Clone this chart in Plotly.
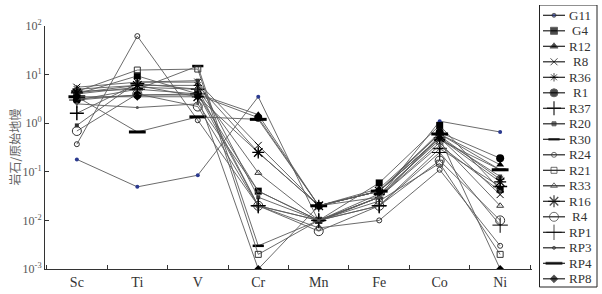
import plotly.graph_objects as go

elements = ["Sc", "Ti", "V", "Cr", "Mn", "Fe", "Co", "Ni"]

G11 = [0.18, 0.049, 0.085, 3.5, 0.0095, 0.03, 1.1, 0.66]
G4 = [4.0, 9.4, 4.0, 0.04, 0.01, 0.059, 0.9, 0.043]
R12 = [3.2, 3.8, 4.0, 1.5, 0.02, 0.045, 0.6, 0.14]
R8 = [5.5, 7.0, 7.0, 0.35, 0.02, 0.04, 0.5, 0.034]
R36 = [5.0, 6.0, 6.0, 0.25, 0.02, 0.03, 0.55, 0.07]
R1 = [3.0, 3.8, 3.8, 1.3, 0.02, 0.04, 0.65, 0.19]
R37 = [1.6, 6.5, 5.0, 0.02, 0.01, 0.02, 0.3, 0.05]
R20 = [0.9, 7.0, 7.5, 0.03, 0.01, 0.03, 0.5, 0.08]
R30 = [4.5, 5.0, 15.0, 0.003, 0.01, 0.035, 0.45, 0.11]
R24 = [0.37, 62.0, 1.15, 0.02, 0.007, 0.01, 0.11, 0.003]
R21 = [4.5, 12.4, 13.0, 0.002, 0.01, 0.025, 0.15, 0.002]
R33 = [4.0, 5.5, 5.0, 0.095, 0.01, 0.03, 0.4, 0.02]
R16 = [4.2, 6.0, 3.5, 0.25, 0.02, 0.04, 0.5, 0.062]
R4 = [0.69, 4.0, 2.2, 0.02, 0.006, 0.02, 0.17, 0.01]
RP1 = [3.0, 5.0, 4.0, 0.02, 0.01, 0.02, 0.25, 0.008]
RP3 = [2.5, 2.1, 2.5, 0.04, 0.01, 0.03, 0.35, 0.04]
RP4 = [3.5, 0.66, 1.35, 1.2, 0.02, 0.04, 0.6, 0.11]
RP8 = [3.5, 3.5, 3.5, 0.001, 0.02, 0.04, 0.5, 0.001]

series = [
    ("G11", G11, dict(symbol="circle", size=4, color="#2b3a8f")),
    ("G4", G4, dict(symbol="square", size=7, color="black")),
    ("R12", R12, dict(symbol="triangle-up", size=7, color="black")),
    ("R8", R8, dict(symbol="x-thin-open", size=7, color="black", line=dict(width=1, color="black"))),
    ("R36", R36, dict(symbol="asterisk-open", size=7, color="black", line=dict(width=1, color="black"))),
    ("R1", R1, dict(symbol="circle", size=8, color="black")),
    ("R37", R37, dict(symbol="cross-thin-open", size=10, color="black", line=dict(width=1.5, color="black"))),
    ("R20", R20, dict(symbol="square", size=4, color="#333")),
    ("R30", R30, dict(symbol="line-ew-open", size=8, color="black", line=dict(width=2.5, color="black"))),
    ("R24", R24, dict(symbol="circle-open", size=5, color="#333", line=dict(width=1, color="#333"))),
    ("R21", R21, dict(symbol="square-open", size=6, color="#333", line=dict(width=1, color="#333"))),
    ("R33", R33, dict(symbol="triangle-up-open", size=6, color="#333", line=dict(width=1, color="#333"))),
    ("R16", R16, dict(symbol="asterisk-open", size=10, color="black", line=dict(width=1.3, color="black"))),
    ("R4", R4, dict(symbol="circle-open", size=9, color="#333", line=dict(width=1, color="#333"))),
    ("RP1", RP1, dict(symbol="cross-thin-open", size=11, color="black", line=dict(width=1, color="black"))),
    ("RP3", RP3, dict(symbol="circle", size=3, color="#555")),
    ("RP4", RP4, dict(symbol="line-ew-open", size=12, color="black", line=dict(width=3, color="black"))),
    ("RP8", RP8, dict(symbol="diamond", size=6, color="black")),
]

W, H = 602, 294
ML, MR, MT, MB = 45, 3, 5, 4
pw, ph = W - ML - MR, H - MT - MB
plot_left, plot_right, plot_top, plot_bottom = 45, 532, 26, 269

fig = go.Figure()
for name, vals, mk in series:
    fig.add_trace(go.Scatter(
        x=elements, y=vals, name=name, mode="lines+markers",
        line=dict(color="#5a5a5a", width=0.9), marker=mk, showlegend=False,
        xaxis="x", yaxis="y",
    ))

# manual legend (compact rows), drawn in a pixel-mapped overlay axis pair
row0, row_step = 15.3, 15.5
annotations = []
for i, (name, vals, mk) in enumerate(series):
    yy = row0 + i * row_step
    m = dict(mk)
    m["size"] = [0, mk["size"], 0]
    fig.add_trace(go.Scatter(
        x=[543, 554, 565], y=[yy, yy, yy], mode="lines+markers",
        line=dict(color="#222", width=1.2), marker=m, showlegend=False,
        xaxis="x2", yaxis="y2", hoverinfo="skip", cliponaxis=False,
    ))
    annotations.append(dict(
        x=580, y=yy, xref="x2", yref="y2", text=name, showarrow=False,
        xanchor="center", yanchor="middle",
        font=dict(family="Liberation Serif", size=13, color="#333"),
    ))

annotations.append(dict(
    x=(14 - ML) / pw, y=(H - MB - (plot_top + plot_bottom) / 2) / ph,
    xref="paper", yref="paper", text="岩石/原始地幔",
    showarrow=False, textangle=-90, xanchor="center", yanchor="middle",
    font=dict(family="Noto Sans CJK SC", size=12, color="#666"),
))

tickvals = [1e-3, 1e-2, 1e-1, 1, 10, 100]
ticktext = ["10<sup>-3</sup>", "10<sup>-2</sup>", "10<sup>-1</sup>", "10<sup>0</sup>",
            "10<sup>1</sup>", "10<sup>2</sup>"]

fig.update_layout(
    width=W, height=H,
    margin=dict(l=ML, r=MR, t=MT, b=MB, autoexpand=False),
    paper_bgcolor="white", plot_bgcolor="rgba(0,0,0,0)",
    font=dict(family="Liberation Serif", size=13, color="#444"),
    showlegend=False,
    annotations=annotations,
    shapes=[dict(type="rect", xref="x2", yref="y2", x0=539.5, x1=597, y0=5, y1=287,
                 line=dict(color="#222", width=1))],
    xaxis=dict(
        domain=[(plot_left - ML) / pw, (plot_right - ML) / pw],
        type="category", showline=True, linecolor="#333", linewidth=1,
        ticks="inside", tickson="boundaries", ticklen=4, tickcolor="#333",
        showgrid=False, zeroline=False, mirror=False, automargin=False,
        tickfont=dict(family="Liberation Serif", size=14, color="#333"),
    ),
    yaxis=dict(
        domain=[(H - MB - plot_bottom) / ph, (H - MB - plot_top) / ph],
        type="log", range=[-3, 2], showline=True, linecolor="#333", linewidth=1,
        ticks="inside", ticklen=4, tickcolor="#333", showgrid=False, zeroline=False,
        tickvals=tickvals, ticktext=ticktext, automargin=False,
        tickfont=dict(family="Liberation Serif", size=12, color="#555"),
    ),
    xaxis2=dict(
        domain=[0, 1], range=[ML, W - MR],
        visible=False, fixedrange=True, anchor="y2",
    ),
    yaxis2=dict(
        domain=[0, 1], range=[H - MB, MT], visible=False, fixedrange=True,
        anchor="x2",
    ),
)

fig.write_html("out.html", config={"displayModeBar": False},
               post_script="document.body.style.margin='0';")
